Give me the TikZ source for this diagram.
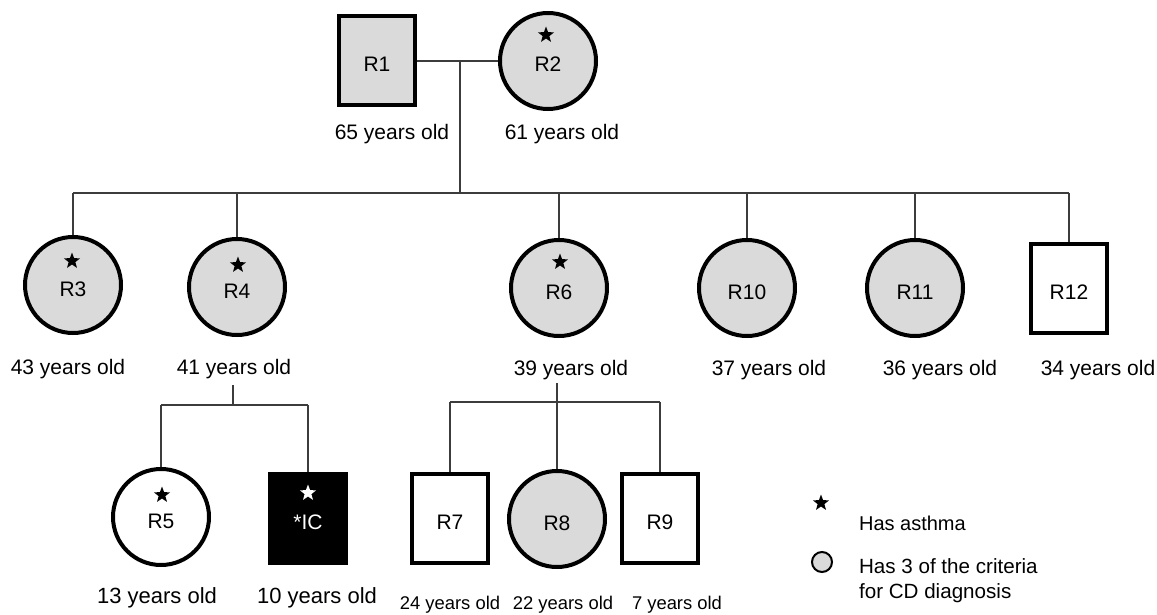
\documentclass[tikz,border=0pt]{standalone}
\usepackage{fontspec}
\setmainfont{Liberation Sans}
\usetikzlibrary{shapes.geometric}
\definecolor{cdgray}{RGB}{218,218,218}
\definecolor{kingray}{RGB}{60,60,60}
\tikzset{
  male/.style={rectangle,draw,line width=2pt,minimum width=38pt,minimum height=44.5pt,inner sep=0pt},
  female/.style={circle,draw,line width=2pt,minimum size=48pt,inner sep=0pt},
  cd/.style={fill=cdgray},
  asthma/.style={star,star points=5,star point ratio=2.4,fill=black,inner sep=0pt,minimum size=8.5pt},
  age/.style={font=\fontsize{10.5}{12}\selectfont},
  kid/.style={font=\fontsize{9.2}{11}\selectfont},
  kin/.style={draw=kingray,line width=0.9pt}
}
\begin{document}
\begin{tikzpicture}[x=0.5pt,y=-0.5pt]
			\useasboundingbox (0,0) rectangle (1157,615);
			\begin{scope}[every node/.append style={font=\fontsize{10.5}{12}\selectfont,text height=11pt,text depth=0pt}]
			\node[male,cd]		(R1) at (377, 61)	{R1};
			\node[female,cd]	(R2) at (548, 61)	{R2};
			
			\node[female,cd]	(R3) at (73, 285)	{R3};
			\node[female,cd]	(R4) at (237, 287)	{R4};
			\node[female,cd]	(R6) at (559, 288)	{R6};
			\node[female,cd]	(R10) at (747, 288)	{R10};
			\node[female,cd]	(R11) at (915, 288)	{R11};
			\node[male]		(R12) at (1069, 288)	{R12};
			
			\node[female]		(R5) at (161, 517)	{R5};
			\node[male,fill=black,text=white]	(IC) at (308, 518)	{*IC};
			
			\node[male]		(R7) at (450, 518)	{R7};
			\node[female,cd]	(R8) at (557, 519)	{R8};
			\node[male]		(R9) at (660, 518)	{R9};
			\end{scope}
			
			\node[asthma]	(st2) at (546, 35)	{};
			\node[asthma]	(st3) at (72, 261)	{};
			\node[asthma]	(st4) at (238, 265)	{};
			\node[asthma]	(st6) at (560, 262)	{};
			\node[asthma]	(st5) at (162, 495)	{};
			\node[asthma,fill=white]	(stIC) at (308, 493)	{};
			
			\node[age] (a1) at (392, 134) {65 years old};
			\node[age] (a2) at (562, 134) {61 years old};
			\node[age] (a3) at (68, 369) {43 years old};
			\node[age] (a4) at (234, 369) {41 years old};
			\node[age] (a6) at (571, 370) {39 years old};
			\node[age] (a10) at (769, 370) {37 years old};
			\node[age] (a11) at (940, 370) {36 years old};
			\node[age] (a12) at (1098, 370) {34 years old};
			\node[font=\fontsize{11}{13}\selectfont] (a5) at (157, 598) {13 years old};
			\node[font=\fontsize{11}{13}\selectfont] (aIC) at (317, 598) {10 years old};
			\node[kid] (a7) at (450, 605) {24 years old};
			\node[kid] (a8) at (563, 605) {22 years old};
			\node[kid] (a9) at (677, 605) {7 years old};
			
			\coordinate (m1) at (460, 61);
			\coordinate (s1) at (460, 193);
			\coordinate (c4) at (233, 385);
			\coordinate (s4) at (233, 405);
			\coordinate (c6) at (557, 383);
			\coordinate (s6) at (557, 402);
			
			\path [kin] (R1) edge (R2);
			\path [kin] (m1) edge (s1);
			\path [kin] (R3 |- s1) edge (R12 |- s1);
			\path [kin] (R3 |- s1) edge (R3);
			\path [kin] (R4 |- s1) edge (R4);
			\path [kin] (R6 |- s1) edge (R6);
			\path [kin] (R10 |- s1) edge (R10);
			\path [kin] (R11 |- s1) edge (R11);
			\path [kin] (R12 |- s1) edge (R12);
			
			\path [kin] (c4) edge (s4);
			\path [kin] (R5 |- s4) edge (IC |- s4);
			\path [kin] (R5 |- s4) edge (R5);
			\path [kin] (IC |- s4) edge (IC);
			
			\path [kin] (c6) edge (R8);
			\path [kin] (R7 |- s6) edge (R9 |- s6);
			\path [kin] (R7 |- s6) edge (R7);
			\path [kin] (R9 |- s6) edge (R9);
			
			\node[asthma] (lst) at (821, 503) {};
			\node[circle,draw,line width=1pt,fill=cdgray,minimum size=10pt,inner sep=0pt] (lcd) at (822, 562) {};
			\node[anchor=west,font=\fontsize{10}{12}\selectfont] (l1) at (852, 523) {Has asthma};
			\node[anchor=west,align=left,font=\fontsize{10.3}{12.5}\selectfont] (l2) at (852, 581) {Has 3 of the criteria\\for CD diagnosis};
\end{tikzpicture}
\end{document}
